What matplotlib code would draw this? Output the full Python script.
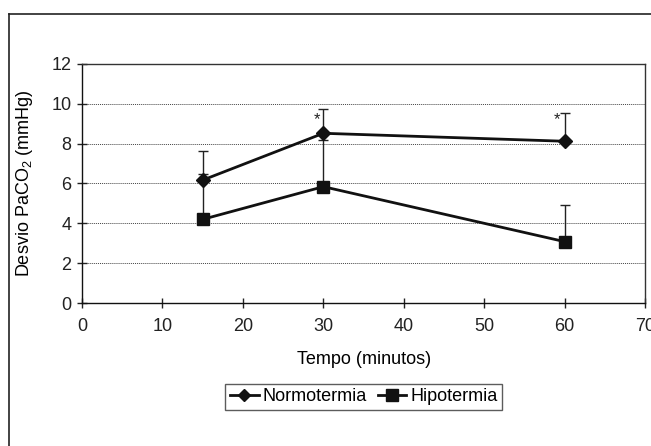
import numpy as np
import matplotlib.pyplot as plt
from matplotlib.lines import Line2D

plt.rcParams['font.family'] = ['Liberation Sans', 'DejaVu Sans']
plt.rcParams['mathtext.fontset'] = 'custom'
plt.rcParams['mathtext.rm'] = 'Liberation Sans'

# data
tempo = [15, 30, 60]
normotermia = [6.17, 8.52, 8.12]
normotermia_err = [1.45, 1.23, 1.4]
hipotermia = [4.2, 5.84, 3.08]
hipotermia_err = [2.27, 2.33, 1.83]
star_x = [29.2, 59.1]
star_y = [9.2, 9.2]

fig = plt.figure(figsize=(6.51, 4.46), dpi=100)
ax = fig.add_axes([0.126, 0.3206, 0.865, 0.536])

# error bars (upper only)
ax.errorbar(tempo, normotermia, yerr=[np.zeros(3), normotermia_err], fmt='none',
            ecolor='#222222', elinewidth=1, capsize=3.5, capthick=1, zorder=2)
ax.errorbar(tempo, hipotermia, yerr=[np.zeros(3), hipotermia_err], fmt='none',
            ecolor='#222222', elinewidth=1, capsize=3.5, capthick=1, zorder=2)

ax.plot(tempo, normotermia, color='#111111', lw=2, marker='D', markersize=7.5,
        label='Normotermia', zorder=3)
ax.plot(tempo, hipotermia, color='#111111', lw=2, marker='s', markersize=9,
        label='Hipotermia', zorder=3)

for x, y in zip(star_x, star_y):
    ax.text(x, y, '*', ha='center', va='center', fontsize=12, color='#222222')

ax.set_xlim(0, 70)
ax.set_ylim(0, 12)
ax.set_xticks(range(0, 71, 10))
ax.set_yticks(range(0, 13, 2))
ax.tick_params(direction='inout', length=7, width=1, labelsize=13, colors='#222222')
ax.tick_params(axis='x', pad=7)
ax.tick_params(axis='y', pad=4)

for y in range(2, 12, 2):
    ax.axhline(y, color='#444444', lw=0.7, ls=(0, (1, 1)), zorder=1)

for s in ax.spines.values():
    s.set_color('#333333')
    s.set_linewidth(1)
ax.spines['left'].set_color('#111111')
ax.spines['bottom'].set_color('#111111')

ax.set_xlabel('Tempo (minutos)', fontsize=13, labelpad=12)
ax.set_ylabel('Desvio PaCO$_2$ (mmHg)', fontsize=13, labelpad=12)

handles = [Line2D([], [], color='#111111', lw=2, marker='D', markersize=6),
           Line2D([], [], color='#111111', lw=2, marker='s', markersize=8)]
leg = fig.legend(handles, ['Normotermia', 'Hipotermia'], loc='center',
                 bbox_to_anchor=(0.5585, 0.11), ncol=2, fontsize=13, frameon=True,
                 fancybox=False, edgecolor='#333333', handlelength=1.6,
                 handletextpad=0.2, columnspacing=0.6, borderpad=0.25,
                 borderaxespad=0)
leg.get_frame().set_linewidth(1)

# outer frame
fig.add_artist(Line2D([0.0138, 0.0138], [0, 0.9686], transform=fig.transFigure,
                      color='#222222', lw=1.2))
fig.add_artist(Line2D([0.0138, 1], [0.9686, 0.9686], transform=fig.transFigure,
                      color='#222222', lw=1.2))

fig.savefig('out.png', dpi=100)
